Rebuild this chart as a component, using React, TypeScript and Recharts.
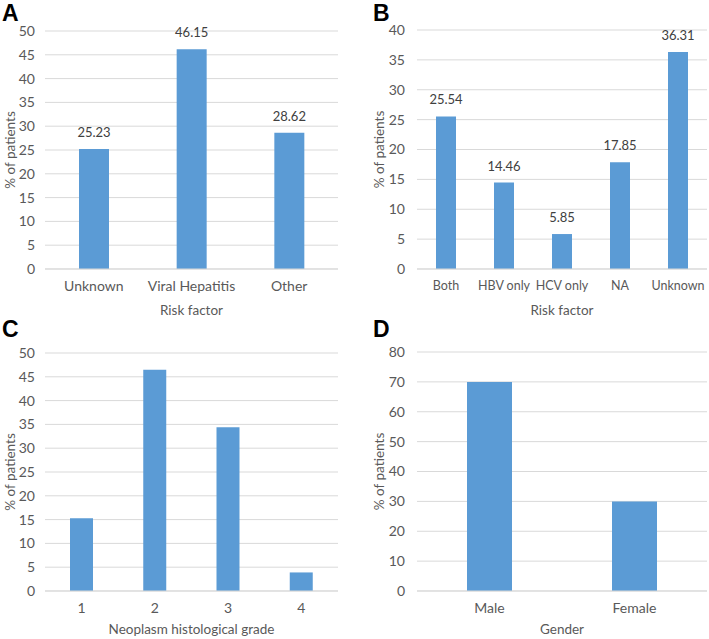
import { Bar, BarChart, CartesianGrid, LabelList, XAxis, YAxis } from "recharts";

const riskFactors = ["Unknown", "Viral Hepatitis", "Other"];
const riskPct = [25.23, 46.15, 28.62];

const virusGroups = ["Both", "HBV only", "HCV only", "NA", "Unknown"];
const virusPct = [25.54, 14.46, 5.85, 17.85, 36.31];

const grades = ["1", "2", "3", "4"];
const gradePct = [15.3, 46.5, 34.4, 3.9];

const genders = ["Male", "Female"];
const genderPct = [70, 30];

const ticks50 = [0, 5, 10, 15, 20, 25, 30, 35, 40, 45, 50];
const ticks40 = [0, 5, 10, 15, 20, 25, 30, 35, 40];
const ticks80 = [0, 10, 20, 30, 40, 50, 60, 70, 80];

const BAR = "#5B9BD5";
const GRID = "#D9D9D9";
const TEXT = "#595959";
const FONT = "Lato, 'Open Sans', sans-serif";

type PanelProps = {
  letter: string;
  left: number;
  top: number;
  width: number;
  height: number;
  cats: string[];
  values: number[];
  ticks: number[];
  xTitle: string;
  barSize: number;
  showLabels?: boolean;
  margin: { top: number; right: number; left: number; bottom: number };
  yWidth: number;
  xHeight: number;
  xTickFont: number;
  letterTop: number;
  letterLeft: number;
};

function Panel(p: PanelProps) {
  const data = p.cats.map((c, i) => ({ cat: c, value: p.values[i] }));
  const max = p.ticks[p.ticks.length - 1];
  return (
    <div style={{ position: "absolute", left: p.left, top: p.top, width: p.width, height: p.height }}>
      <BarChart width={p.width} height={p.height} data={data} margin={p.margin}>
        <CartesianGrid vertical={false} stroke={GRID} />
        <XAxis
          dataKey="cat"
          height={p.xHeight}
          tickSize={0}
          tickMargin={12}
          axisLine={{ stroke: GRID }}
          tick={{ fill: TEXT, fontSize: p.xTickFont, fontFamily: FONT }}
          interval={0}
          label={{ value: p.xTitle, position: "insideBottom", offset: 5, fill: TEXT, fontSize: 13.5, fontFamily: FONT }}
        />
        <YAxis
          domain={[0, max]}
          ticks={p.ticks}
          width={p.yWidth}
          tickSize={0}
          tickMargin={p.yWidth > 46 ? 12 : 10}
          axisLine={false}
          tick={{ fill: TEXT, fontSize: 14, fontFamily: FONT }}
          label={{
            value: "% of patients",
            angle: -90,
            position: "insideLeft",
            offset: 10,
            fill: TEXT,
            fontSize: 13.5,
            fontFamily: FONT,
            style: { textAnchor: "middle" },
          }}
        />
        <Bar dataKey="value" fill={BAR} barSize={p.barSize} isAnimationActive={false}>
          {p.showLabels && (
            <LabelList dataKey="value" position="top" offset={12} fill="#404040" fontSize={13} fontFamily={FONT} />
          )}
        </Bar>
      </BarChart>
      <div
        style={{
          position: "absolute",
          left: p.letterLeft,
          top: p.letterTop,
          fontFamily: "'Liberation Sans', Arial, sans-serif",
          fontWeight: "bold",
          fontSize: 23,
          lineHeight: "normal",
          color: "#000",
        }}
      >
        {p.letter}
      </div>
    </div>
  );
}

export default function App() {
  return (
    <div style={{ position: "absolute", left: 0, top: 0, width: 709, height: 639, background: "#fff" }}>
      <Panel
        letter="A"
        letterLeft={2}
        letterTop={0}
        left={0}
        top={0}
        width={354}
        height={320}
        cats={riskFactors}
        values={riskPct}
        ticks={ticks50}
        xTitle="Risk factor"
        barSize={30}
        showLabels
        margin={{ top: 31, right: 16, left: 0, bottom: 0 }}
        yWidth={45}
        xHeight={51}
        xTickFont={14}
      />
      <Panel
        letter="B"
        letterLeft={19}
        letterTop={0}
        left={354}
        top={0}
        width={355}
        height={320}
        cats={virusGroups}
        values={virusPct}
        ticks={ticks40}
        xTitle="Risk factor"
        barSize={20}
        showLabels
        margin={{ top: 30, right: 2, left: 15, bottom: 0 }}
        yWidth={48}
        xHeight={51}
        xTickFont={12.5}
      />
      <Panel
        letter="C"
        letterLeft={2}
        letterTop={-4}
        left={0}
        top={320}
        width={354}
        height={319}
        cats={grades}
        values={gradePct}
        ticks={ticks50}
        xTitle="Neoplasm histological grade"
        barSize={23}
        margin={{ top: 33, right: 16, left: 0, bottom: 0 }}
        yWidth={45}
        xHeight={48}
        xTickFont={14}
      />
      <Panel
        letter="D"
        letterLeft={19}
        letterTop={-4}
        left={354}
        top={320}
        width={355}
        height={319}
        cats={genders}
        values={genderPct}
        ticks={ticks80}
        xTitle="Gender"
        barSize={45}
        margin={{ top: 32, right: 2, left: 15, bottom: 0 }}
        yWidth={48}
        xHeight={48}
        xTickFont={14}
      />
    </div>
  );
}
